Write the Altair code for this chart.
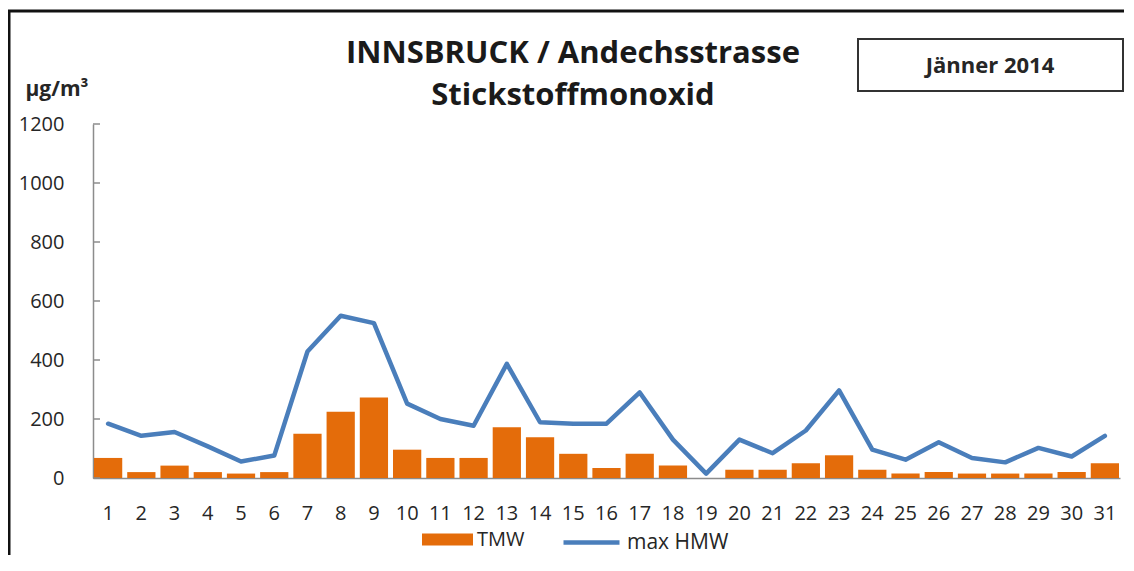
import altair as alt
import pandas as pd

# ---- data ----
days = list(range(1, 32))
tmw = [68, 20, 42, 20, 15, 20, 150, 225, 273, 96, 68, 68, 172, 138, 82, 34,
       82, 42, 0, 28, 28, 50, 77, 28, 15, 20, 15, 15, 15, 20, 50]
max_hmw = [184, 143, 156, 107, 56, 76, 429, 550, 525, 252, 200, 177, 387, 189,
           184, 184, 290, 130, 15, 130, 84, 161, 297, 96, 62, 121, 68, 53, 102,
           73, 143]
y_ticks = [0, 200, 400, 600, 800, 1000, 1200]
title_lines = ["INNSBRUCK / Andechsstrasse", "Stickstoffmonoxid"]
unit_label = "µg/m³"
period_label = ["Jänner 2014"]
series_names = ["TMW", "max HMW"]

ORANGE = "#E46C0A"
BLUE = "#4A7EBB"
GRAY = "#8C8C8C"
TXT = "#262626"
FONT = "Open Sans"

df = pd.DataFrame({"day": days, "TMW": tmw, "HMW": max_hmw,
                   "s1": series_names[0], "s2": series_names[1]})

W, H = 1027, 354

x_enc = alt.X("day:O", sort=None, title=None,
              scale=alt.Scale(paddingInner=0.15, paddingOuter=0.03),
              axis=alt.Axis(labelAngle=0, ticks=False, tickSize=0,
                            labelPadding=35, labelBaseline="middle",
                            labelFontSize=20, labelFont=FONT, labelColor=TXT,
                            domainColor=GRAY, domainWidth=1.5, grid=False))
y_scale = alt.Scale(domain=[0, 1200], nice=False)
y_axis = alt.Axis(values=y_ticks, format="d", ticks=False, tickSize=0,
                  grid=False, labelPadding=29, labelFontSize=20,
                  labelFont=FONT, labelColor=TXT, domainColor=GRAY,
                  domainWidth=1.5, titleAngle=0, titleX=-68, titleY=-35,
                  titleAlign="left", titleBaseline="middle",
                  titleFontSize=21, titleFont=FONT,
                  titleFontWeight="bold", titleColor=TXT)

base = alt.Chart(df).encode(x=x_enc)

bars = base.mark_bar(color=ORANGE).encode(
    y=alt.Y("TMW:Q", scale=y_scale, title=unit_label, axis=y_axis),
    fill=alt.Fill("s1:N", scale=alt.Scale(range=[ORANGE]),
                  legend=alt.Legend(title=None, orient="none", legendX=329,
                                    legendY=390, padding=0,
                                    symbolType="M-1,-0.235H1V0.235H-1Z",
                                    symbolSize=2601, symbolStrokeWidth=0,
                                    symbolOpacity=1, labelOffset=4,
                                    labelFontSize=20, labelFont=FONT,
                                    labelColor=TXT)),
)

line = base.mark_line(strokeWidth=4.5, strokeCap="round", strokeJoin="round").encode(
    y=alt.Y("HMW:Q", scale=y_scale, title=unit_label, axis=y_axis),
    stroke=alt.Stroke("s2:N", scale=alt.Scale(range=[BLUE]),
                      legend=alt.Legend(title=None, orient="none", legendX=468,
                                        legendY=388, padding=0,
                                        symbolType="stroke", symbolSize=3136,
                                        symbolStrokeWidth=4.5,
                                        labelOffset=5, labelFontSize=21,
                                        labelFont=FONT, labelColor=TXT)),
)

tick_marks = alt.Chart(pd.DataFrame({"v": y_ticks})).mark_rule(
    color=GRAY, strokeWidth=1.5).encode(
    y=alt.Y("v:Q", scale=y_scale, title=unit_label, axis=y_axis),
    x=alt.value(0), x2=alt.value(7))

one = pd.DataFrame({"label": period_label})
box = alt.Chart(one).mark_rect(fill="white", stroke="#333333",
                               strokeWidth=2).encode(
    x=alt.value(765), x2=alt.value(1030), y=alt.value(-85), y2=alt.value(-33))
box_text = alt.Chart(one).mark_text(fontSize=22, fontWeight="bold", font=FONT,
                                    color=TXT, baseline="middle",
                                    align="center").encode(
    x=alt.value(897), y=alt.value(-58), text="label:N")

t1 = alt.Chart(pd.DataFrame({"t": [title_lines[0]]})).mark_text(
    fontSize=31, fontWeight="bold", font=FONT, color="#1a1a1a",
    baseline="alphabetic", align="center").encode(
    x=alt.value(480), y=alt.value(-61), text="t:N")
t2 = alt.Chart(pd.DataFrame({"t": [title_lines[1]]})).mark_text(
    fontSize=31, fontWeight="bold", font=FONT, color="#1a1a1a",
    baseline="alphabetic", align="center").encode(
    x=alt.value(480), y=alt.value(-19), text="t:N")

frame_left = alt.Chart(one).mark_rule(color="#111111", strokeWidth=3).encode(
    x=alt.value(-84), y=alt.value(-113), y2=alt.value(470))
frame_top = alt.Chart(one).mark_rule(color="#111111", strokeWidth=3).encode(
    y=alt.value(-113), x=alt.value(-85), x2=alt.value(1060))

chart = alt.layer(frame_left, frame_top, box, box_text, t1, t2, bars, line,
                  tick_marks).resolve_scale(y="shared").properties(
    width=W, height=H,
    background="white",
    autosize=alt.AutoSizeParams(type="none"),
    padding={"left": 85, "top": 116, "right": 4, "bottom": 77},
).configure_view(stroke=None)

chart.save("out.html", embed_options={"renderer": "svg", "actions": False})
